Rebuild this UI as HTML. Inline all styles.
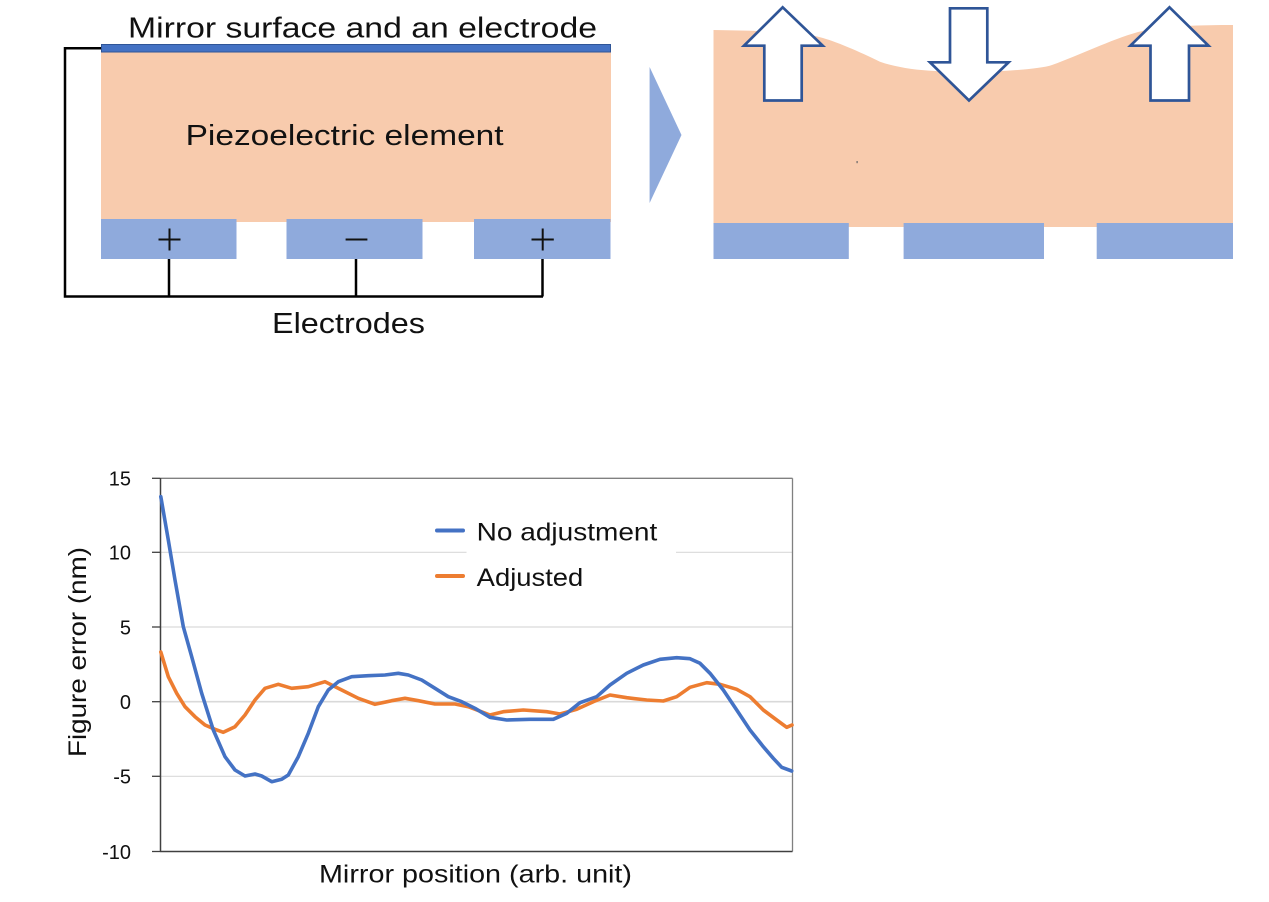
<!DOCTYPE html>
<html>
<head>
<meta charset="utf-8">
<style>
  html,body{margin:0;padding:0;background:#fff;}
  svg{display:block;}
  text{font-family:"Liberation Sans", sans-serif;}
</style>
</head>
<body>
<svg width="1269" height="902" viewBox="0 0 1269 902" xmlns="http://www.w3.org/2000/svg">
  <rect x="0" y="0" width="1269" height="902" fill="#fff"/>

  <!-- ===== Left diagram ===== -->
  <text x="128" y="37.3" font-size="29" fill="#111" textLength="469" lengthAdjust="spacingAndGlyphs">Mirror surface and an electrode</text>
  <!-- piezo body -->
  <rect x="101" y="52" width="510" height="170" fill="#F8CBAD"/>
  <!-- top electrode -->
  <rect x="101.5" y="44.5" width="509" height="7.5" fill="#4472C4" stroke="#2F5597" stroke-width="1"/>
  <text x="185.6" y="145" font-size="29" fill="#111" textLength="318" lengthAdjust="spacingAndGlyphs">Piezoelectric element</text>
  <!-- bottom electrodes -->
  <rect x="101" y="219" width="135.5" height="40" fill="#8FAADC"/>
  <rect x="286.5" y="219" width="136" height="40" fill="#8FAADC"/>
  <rect x="474" y="219" width="136.5" height="40" fill="#8FAADC"/>
  <!-- signs -->
  <g stroke="#111" stroke-width="2" fill="none">
    <line x1="158.5" y1="239.5" x2="180.5" y2="239.5"/>
    <line x1="169.5" y1="228.5" x2="169.5" y2="250.5"/>
    <line x1="345.6" y1="239.5" x2="367.4" y2="239.5"/>
    <line x1="531.5" y1="239.5" x2="553.8" y2="239.5"/>
    <line x1="542.7" y1="228.5" x2="542.7" y2="250.5"/>
  </g>
  <!-- wires -->
  <g stroke="#000" stroke-width="2.5" fill="none">
    <path d="M101,48.3 H65 V296.5 H543"/>
    <path d="M169,259 V296.5"/>
    <path d="M356,259 V296.5"/>
    <path d="M542.5,259 V296.5"/>
  </g>
  <text x="272" y="333" font-size="29" fill="#111" textLength="153" lengthAdjust="spacingAndGlyphs">Electrodes</text>

  <!-- triangle arrow -->
  <polygon points="649.6,67 681.5,135 649.6,203" fill="#8FAADC"/>

  <!-- ===== Right diagram ===== -->
  <path d="M713.5,30 L753,30.7 C790,32 810,34.5 820,37.3 C835,41 860,52 880,61.7 C895,67 915,70 935,71 L969,72.5 C1010,71 1040,69 1052,65 C1080,55 1110,40 1138,32 C1160,26 1200,25 1233,25 L1233,227 L713.5,227 Z" fill="#F8CBAD"/>
  <rect x="713.5" y="223" width="135.3" height="36" fill="#8FAADC"/>
  <rect x="903.6" y="223" width="140.4" height="36" fill="#8FAADC"/>
  <rect x="1096.7" y="223" width="136.3" height="36" fill="#8FAADC"/>
  <rect x="856.5" y="161" width="1.2" height="2.2" fill="#666"/>
  <!-- block arrows -->
  <g fill="#fff" stroke="#2F5597" stroke-width="2.7" stroke-linejoin="miter">
    <polygon points="782.7,7.3 822.7,45.7 801.7,45.7 801.7,100.5 764.3,100.5 764.3,45.7 744,45.7"/>
    <polygon points="950,8.3 987.3,8.3 987.3,62.3 1008.6,62.3 969,100.5 930,62.3 950,62.3"/>
    <polygon points="1169.5,7.3 1208.5,45.7 1189,45.7 1189,100.5 1150.5,100.5 1150.5,45.7 1130.4,45.7"/>
  </g>

  <!-- ===== Chart ===== -->
  <!-- gridlines -->
  <g stroke="#D9D9D9" stroke-width="1.2">
    <line x1="160" y1="552.3" x2="792" y2="552.3"/>
    <line x1="160" y1="627" x2="792" y2="627"/>
    <line x1="160" y1="701.7" x2="792" y2="701.7" stroke-width="1.6"/>
    <line x1="160" y1="776.3" x2="792" y2="776.3"/>
  </g>
  <!-- plot border -->
  <line x1="160" y1="478.3" x2="792.5" y2="478.3" stroke="#808080" stroke-width="1.3"/>
  <line x1="792.5" y1="478.3" x2="792.5" y2="851.5" stroke="#808080" stroke-width="1.3"/>
  <line x1="160.5" y1="478" x2="160.5" y2="851.5" stroke="#404040" stroke-width="1.5"/>
  <line x1="160" y1="851.5" x2="792.5" y2="851.5" stroke="#404040" stroke-width="1.5"/>
  <!-- ticks -->
  <g stroke="#404040" stroke-width="1.3">
    <line x1="152" y1="478.3" x2="160" y2="478.3"/>
    <line x1="152" y1="552.3" x2="160" y2="552.3"/>
    <line x1="152" y1="627" x2="160" y2="627"/>
    <line x1="152" y1="701.7" x2="160" y2="701.7"/>
    <line x1="152" y1="776.3" x2="160" y2="776.3"/>
    <line x1="152" y1="851.5" x2="160" y2="851.5"/>
  </g>
  <!-- y labels -->
  <g font-size="20" fill="#111" text-anchor="end">
    <text x="131" y="485.6">15</text>
    <text x="131" y="559.6">10</text>
    <text x="131" y="634.3">5</text>
    <text x="131" y="709">0</text>
    <text x="131" y="783.6">-5</text>
    <text x="131" y="858.8">-10</text>
  </g>
  <!-- axis titles -->
  <text transform="translate(86,652) rotate(-90)" text-anchor="middle" font-size="25" fill="#111" textLength="210" lengthAdjust="spacingAndGlyphs">Figure error (nm)</text>
  <text x="319" y="882.7" font-size="25" fill="#111" textLength="313" lengthAdjust="spacingAndGlyphs">Mirror position (arb. unit)</text>

  <!-- legend background -->
  <rect x="466.5" y="508" width="209.5" height="90" fill="#fff"/>

  <!-- curves -->
  <polyline fill="none" stroke="#ED7D31" stroke-width="3.6" stroke-linejoin="round" stroke-linecap="round"
    points="160.8,652 168.3,676.7 176.7,693.3 185,706.7 195,716.7 205,725 215,729.3 223.3,732.3 235,726.7 245,715 255,700 265,688.3 278.3,684.3 291.7,688.3 308.3,686.7 325,681.7 341.7,690 358.3,698.3 375,704.3 391.7,700.7 405,698.3 418.3,700.7 435,704 455,704 468.3,706.7 490,715 503.3,711.7 523.3,710 546.7,711.7 560,714 576.7,709.3 593.3,701.7 610,695 626.7,697.7 646.7,700 663.3,701 676.7,696.7 690,687.3 706.7,682.7 720,684.3 736.7,689.3 750,696.7 763.3,710 776.7,720 786.7,727.3 792,725"/>
  <polyline fill="none" stroke="#4472C4" stroke-width="3.6" stroke-linejoin="round" stroke-linecap="round"
    points="160.8,496.7 168.3,540 175,580 183.3,626.7 191.7,656.7 201.7,693.3 213.3,730 225,756.7 235,770 245,776 255,774 261.7,776 271.7,781.7 281.7,779.3 288.3,775 298.3,756.7 308.3,733.3 318.3,706.7 328.3,690 338.3,681.7 351.7,676.7 368.3,675.7 385,675 398.3,673.3 408.3,675 421.7,680 435,688.3 448.3,696.7 461.7,701.7 475,708.3 490,717.3 506.7,720 530,719.3 553.3,719.3 566.7,713.3 580,702.7 596.7,696.7 610,685 626.7,673.3 643.3,665 660,659.3 676.7,657.7 690,658.7 700,663.3 710,673.3 723.3,690 736.7,710 750,730 763.3,746.7 773.3,758.3 781.7,767.3 791.7,771"/>

  <!-- legend -->
  <line x1="437" y1="530.5" x2="463" y2="530.5" stroke="#4472C4" stroke-width="4" stroke-linecap="round"/>
  <text x="476.7" y="540.7" font-size="25" fill="#111" textLength="180.6" lengthAdjust="spacingAndGlyphs">No adjustment</text>
  <line x1="437" y1="576" x2="463" y2="576" stroke="#ED7D31" stroke-width="4" stroke-linecap="round"/>
  <text x="476.7" y="586" font-size="25" fill="#111" textLength="106.6" lengthAdjust="spacingAndGlyphs">Adjusted</text>
</svg>
</body>
</html>
